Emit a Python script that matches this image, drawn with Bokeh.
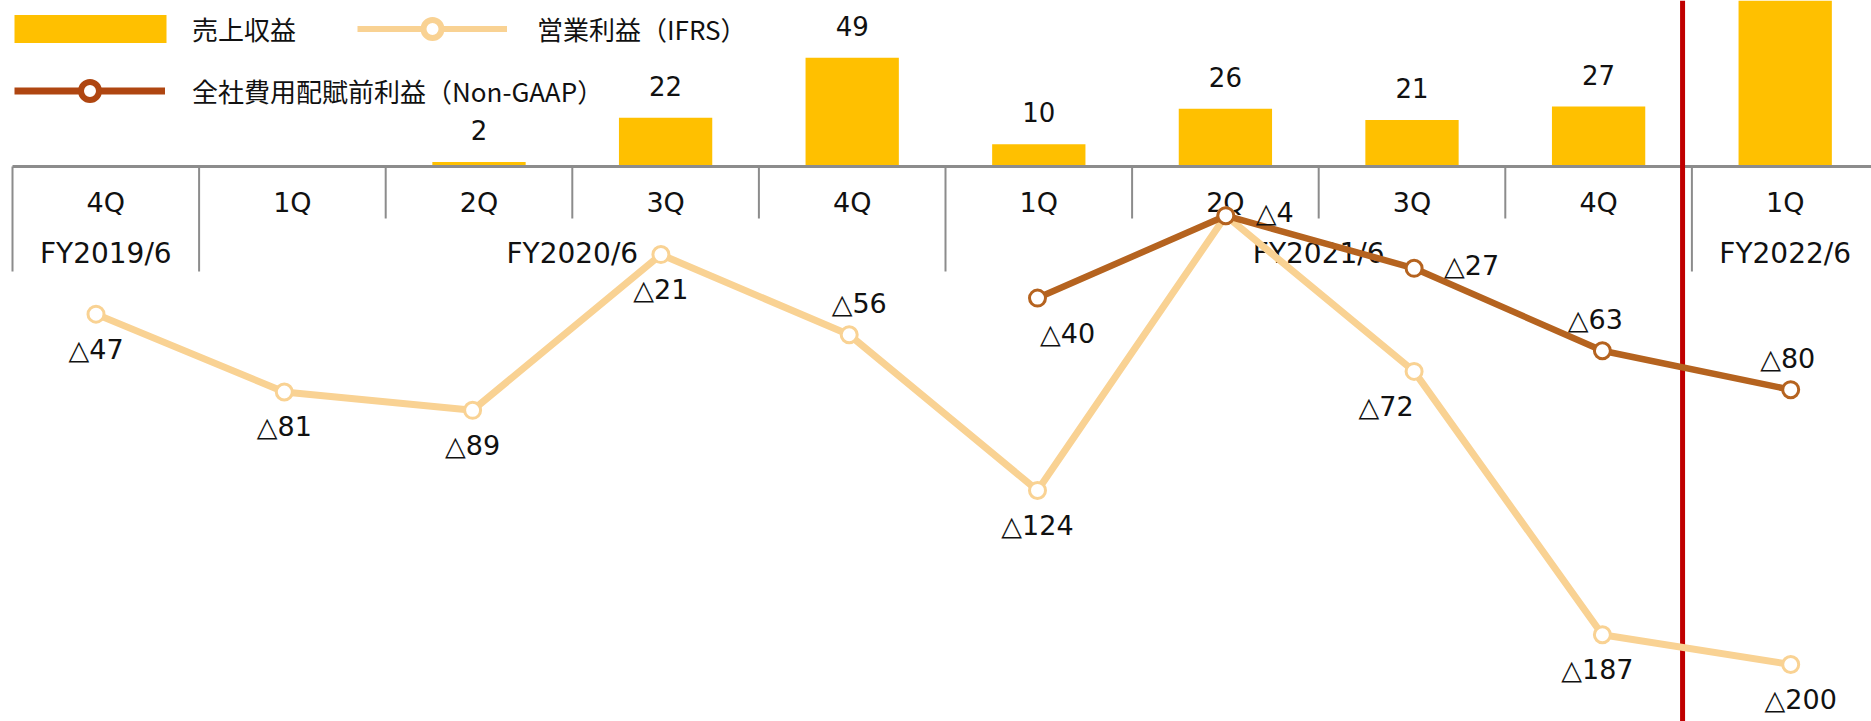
import math
from bokeh.plotting import figure
from bokeh.models import ColumnDataSource, Range1d, Legend, LegendItem
from bokeh.core.properties import value
from bokeh.embed import file_html
from bokeh.resources import INLINE

# ---------------- data ----------------
quarters = ["4Q", "1Q", "2Q", "3Q", "4Q", "1Q", "2Q", "3Q", "4Q", "1Q"]
fiscal_years = ["FY2019/6", "FY2020/6", "FY2020/6", "FY2020/6", "FY2020/6",
                "FY2021/6", "FY2021/6", "FY2021/6", "FY2021/6", "FY2022/6"]
revenue = [None, None, 2, 22, 49, 10, 26, 21, 27, 88]
op_income_ifrs = [-47, -81, -89, -21, -56, -124, -4, -72, -187, -200]
profit_non_gaap = [None, None, None, None, None, -40, -4, -27, -63, -80]
series_names = ["売上収益", "営業利益（IFRS）", "全社費用配賦前利益（Non-GAAP）"]

# label placement (style only): where each value label sits around its point
ifrs_label_side = ["below", "below", "below", "below", "above", "below", None, "below", "below", "below"]
ifrs_label_dx = [0, 0, 0, 0, 10, 0, 0, -28, -5, 10]
ng_label_side = [None, None, None, None, None, "below", "right", "right", "above", "above"]
ng_label_dx = [0, 0, 0, 0, 0, 30, 0, 0, -7, -3]

# ---------------- layout / style ----------------
W, H = 1871, 721
CAT_X0, CAT_W = 12.0, 186.6          # px: first category edge, category width
LINE_X0, LINE_STEP = 95.5, 188.3     # px: first line point, step between points
BASE_Y, BAR_PPU = 166.0, 2.22        # px: bar baseline, px per unit
LINE_Y0, LINE_PPU = 206.0, 2.29      # px: zero of line axis, px per unit
SEP_SHORT, SEP_LONG = 52, 105        # px
DIVIDER_X = 8.95                     # between FY2021/6 and FY2022/6

BAR_COLOR = "#FFC000"
IFRS_COLOR = "#F9D293"
NG_COLOR = "#B5631F"
NG_LEGEND_COLOR = "#AF4611"
AXIS_COLOR = "#8C8C8C"
RED = "#C00000"
TXT = "#111111"
NUM_FONT = value("DejaVu Sans")
JP_FONT = "Noto Sans CJK JP"

nan = float("nan")
n = len(quarters)

p = figure(width=W, height=H, output_backend="svg", toolbar_location=None,
           x_axis_type=None, y_axis_type=None, min_border=0,
           outline_line_color=None,
           x_range=Range1d(-CAT_X0 / CAT_W, (W - CAT_X0) / CAT_W),
           y_range=Range1d(-(H - BASE_Y) / BAR_PPU, BASE_Y / BAR_PPU))
p.extra_x_ranges = {"line": Range1d(-LINE_X0 / LINE_STEP, (W - LINE_X0) / LINE_STEP)}
p.extra_y_ranges = {"line": Range1d(-(H - LINE_Y0) / LINE_PPU, LINE_Y0 / LINE_PPU)}

# ---- bars ----
centers = [i + 0.5 for i in range(n)]
bar_src = ColumnDataSource(dict(x=centers, top=[nan if v is None else v for v in revenue]))
bars = p.vbar(x="x", top="top", bottom=0, width=0.5, source=bar_src,
              fill_color=BAR_COLOR, line_color=None)

vis_top = p.y_range.end
bl = [(c, v) for c, v in zip(centers, revenue) if v is not None and v < vis_top]
p.text(x=[c for c, _ in bl], y=[v for _, v in bl], text=[str(v) for _, v in bl],
       y_offset=-32, text_align="center", text_baseline="middle",
       text_font=NUM_FONT, text_font_size="26px", text_color=TXT)

# ---- category axis ----
p.segment(x0=[0], y0=[0], x1=[n], y1=[0], line_color=AXIS_COLOR, line_width=3)
bx, by = [], []
for k in range(n + 1):
    long_sep = k == 0 or k == n or fiscal_years[k] != fiscal_years[k - 1]
    bx.append(k)
    by.append(-(SEP_LONG if long_sep else SEP_SHORT) / BAR_PPU)
p.segment(x0=bx, y0=[0] * len(bx), x1=bx, y1=by, line_color=AXIS_COLOR, line_width=2)

p.text(x=centers, y=[0] * n, text=quarters, y_offset=36, text_align="center",
       text_baseline="middle", text_font=NUM_FONT, text_font_size="27px", text_color=TXT)

years, ycent = [], []
for k, fy in enumerate(fiscal_years):
    if fy not in years:
        years.append(fy)
        idx = [i for i, f in enumerate(fiscal_years) if f == fy]
        ycent.append((idx[0] + idx[-1] + 1) / 2)
p.text(x=ycent, y=[0] * len(years), text=years, y_offset=87, text_align="center",
       text_baseline="middle", text_font=NUM_FONT, text_font_size="28px", text_color=TXT)

# ---- divider ----
p.segment(x0=[DIVIDER_X], y0=[p.y_range.start], x1=[DIVIDER_X], y1=[p.y_range.end],
          line_color=RED, line_width=5)

# ---- lines ----
j = list(range(n))
ifrs_src = ColumnDataSource(dict(x=j, y=op_income_ifrs))
ng_src = ColumnDataSource(dict(x=j, y=[nan if v is None else v for v in profit_non_gaap]))

p.line("x", "y", source=ifrs_src, x_range_name="line", y_range_name="line",
       line_color=IFRS_COLOR, line_width=7, line_join="round")
p.scatter("x", "y", source=ifrs_src, x_range_name="line", y_range_name="line",
          size=16, fill_color="white", line_color=IFRS_COLOR, line_width=3)
p.line("x", "y", source=ng_src, x_range_name="line", y_range_name="line",
       line_color=NG_COLOR, line_width=6.5, line_join="round")
p.scatter("x", "y", source=ng_src, x_range_name="line", y_range_name="line",
          size=16, fill_color="white", line_color=NG_COLOR, line_width=3)


def fmt(v):
    return ("△" if v < 0 else "") + str(abs(v))


def label_cols(vals, sides, dxs):
    cols = dict(x=[], y=[], text=[], xo=[], yo=[], align=[])
    for i, (v, s, dx) in enumerate(zip(vals, sides, dxs)):
        if v is None or s is None:
            continue
        cols["x"].append(i)
        cols["y"].append(v)
        cols["text"].append(fmt(v))
        if s == "below":
            cols["xo"].append(dx); cols["yo"].append(35); cols["align"].append("center")
        elif s == "above":
            cols["xo"].append(dx); cols["yo"].append(-31); cols["align"].append("center")
        else:
            cols["xo"].append(30 + dx); cols["yo"].append(-3); cols["align"].append("left")
    return ColumnDataSource(cols)


for vals, sides, dxs in [(op_income_ifrs, ifrs_label_side, ifrs_label_dx),
                         (profit_non_gaap, ng_label_side, ng_label_dx)]:
    p.text("x", "y", text="text", x_offset="xo", y_offset="yo", text_align="align",
           text_baseline="middle", source=label_cols(vals, sides, dxs),
           x_range_name="line", y_range_name="line",
           text_font=NUM_FONT, text_font_size="27px", text_color=TXT)

# ---- legend (legend-only glyph styles; their points are NaN so nothing is drawn) ----
leg_ifrs_line = p.line(x=[nan], y=[nan], line_color=IFRS_COLOR, line_width=6)
leg_ifrs_mark = p.scatter(x=[nan], y=[nan], size=18, fill_color="white",
                          line_color=IFRS_COLOR, line_width=6)
leg_ng_line = p.line(x=[nan], y=[nan], line_color=NG_LEGEND_COLOR, line_width=7)
leg_ng_mark = p.scatter(x=[nan], y=[nan], size=18, fill_color="white",
                        line_color=NG_LEGEND_COLOR, line_width=6)


def make_legend(label, renderers, left, top, gw, gh, standoff):
    lg = Legend(items=[LegendItem(label=label, renderers=renderers)],
                location=(left, H - top - gh),
                orientation="horizontal", glyph_width=gw, glyph_height=gh,
                label_standoff=standoff, padding=0, margin=0, spacing=0,
                border_line_color=None, background_fill_alpha=0,
                label_text_font=JP_FONT, label_text_font_size="26px",
                label_text_color=TXT, label_height=gh)
    p.add_layout(lg)


# bar swatch is drawn inset by 10% of the glyph box
make_legend(series_names[0], [bars], -5, 11.5, 190, 35, 7)
make_legend(series_names[1], [leg_ifrs_line, leg_ifrs_mark], 357, 5.5, 150, 45, 30)
make_legend(series_names[2], [leg_ng_line, leg_ng_mark], 14, 67.5, 151, 45, 27)

open("out.html", "w").write(file_html(p, INLINE))
